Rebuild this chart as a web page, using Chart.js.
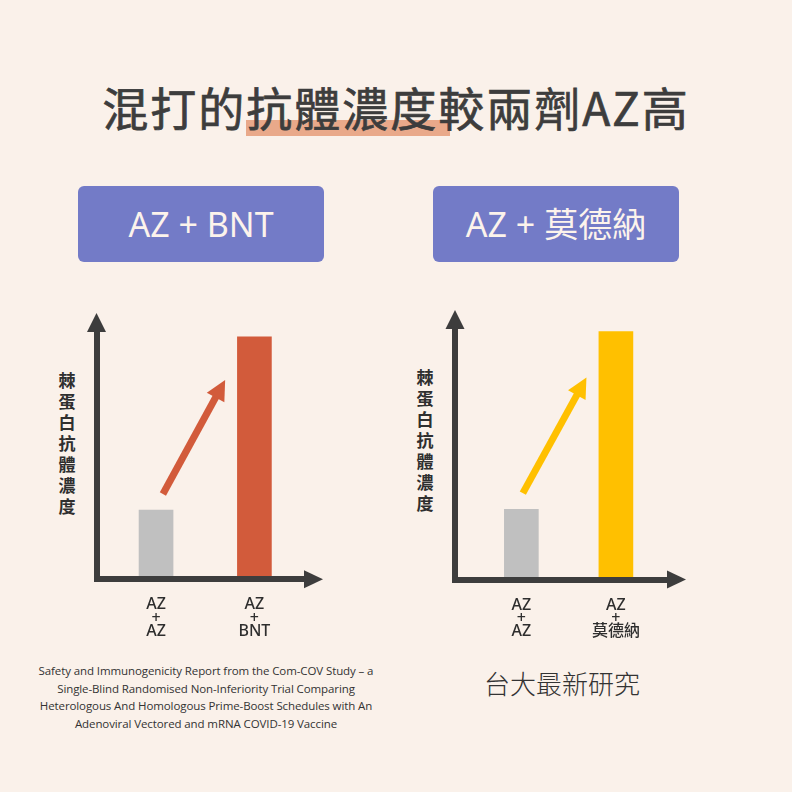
<!DOCTYPE html>
<html>
<head>
<meta charset="utf-8">
<script src="https://cdn.jsdelivr.net/npm/chart.js@4/dist/chart.umd.min.js"></script>
<style>
  html, body { margin: 0; padding: 0; }
  body { width: 792px; height: 792px; background: #faf1ea; position: relative; overflow: hidden;
         font-family: 'Noto Sans', 'Noto Sans CJK TC', sans-serif; color: #3b3b3b; }
  .abs { position: absolute; }
  #hl { left: 246px; top: 120px; width: 204px; height: 16px; background: #e9a98a; }
  #title { left: 0; width: 792px; top: 82px; height: 48px; line-height: 48px; text-align: center;
           font-family: 'Noto Sans CJK TC', sans-serif; font-weight: 400; font-size: 46px;
           letter-spacing: 2px; color: #3d3d3d; -webkit-text-stroke: 0.7px #3d3d3d; }
  .box { top: 186px; width: 246px; height: 76px; border-radius: 6px; background: #737bc7;
         color: #fcf3ec; font-size: 34px; line-height: 76px; text-align: center; }
  .ylab { width: 24px; text-align: center; font-family: 'Noto Sans CJK TC', sans-serif;
          font-weight: 700; font-size: 17px; line-height: 21px; color: #2f2f2f; }
  #cite { left: 20px; width: 372px; top: 662px; text-align: center; font-family: 'Open Sans', sans-serif;
          font-size: 11.5px; line-height: 17.7px; letter-spacing: -0.1px; color: #333; }
  #src { left: 462px; width: 200px; top: 666px; text-align: center; font-family: 'Noto Sans CJK TC', sans-serif;
         font-weight: 300; font-size: 26px; line-height: 34px; color: #333; }
  canvas { position: absolute; }
</style>
</head>
<body>
<div id="hl" class="abs"></div>
<div id="title" class="abs">混打的抗體濃度較兩劑AZ高</div>
<div class="abs box" style="left:78px">AZ + BNT</div>
<div class="abs box" style="left:433px">AZ + 莫德納</div>
<div class="abs ylab" style="left:55px; top:369px">棘<br>蛋<br>白<br>抗<br>體<br>濃<br>度</div>
<div class="abs ylab" style="left:413px; top:366px">棘<br>蛋<br>白<br>抗<br>體<br>濃<br>度</div>
<canvas id="left" width="300" height="370" style="left:40px; top:290px"></canvas>
<canvas id="right" width="300" height="370" style="left:400px; top:290px"></canvas>
<div id="cite" class="abs">Safety and Immunogenicity Report from the Com-COV Study – a<br>Single-Blind Randomised Non-Inferiority Trial Comparing<br>Heterologous And Homologous Prime-Boost Schedules with An<br>Adenoviral Vectored and mRNA COVID-19 Vaccine</div>
<div id="src" class="abs">台大最新研究</div>
<script>
// data (arbitrary units, top of axis = 100)
const categoriesBNT = [['AZ', '+', 'AZ'], ['AZ', '+', 'BNT']];
const categoriesModerna = [['AZ', '+', 'AZ'], ['AZ', '+', '莫德納']];
const valuesBNT = [28, 98];
const valuesModerna = [28, 99];
// trend arrow, in data units [x, y]
const trendFrom = [0.32, 34.5];
const trendTo = [0.62, 80.6];

const AXIS = '#3d3d3d';
const AXIS_W = 6;

// arrowheads on the axes + the diagonal trend arrow
const arrowPlugin = {
  id: 'arrows',
  afterDraw(chart, args, opts) {
    const { ctx, chartArea: a, scales: { x, y } } = chart;
    ctx.save();
    ctx.fillStyle = AXIS;
    ctx.beginPath();
    ctx.moveTo(a.left - 9.5, a.top);
    ctx.lineTo(a.left + 9.5, a.top);
    ctx.lineTo(a.left, a.top - 19);
    ctx.closePath();
    ctx.fill();
    ctx.beginPath();
    ctx.moveTo(a.right, a.bottom - 9);
    ctx.lineTo(a.right, a.bottom + 9);
    ctx.lineTo(a.right + 19, a.bottom);
    ctx.closePath();
    ctx.fill();

    const x0 = x.getPixelForValue(trendFrom[0]), y0 = y.getPixelForValue(trendFrom[1]);
    const x1 = x.getPixelForValue(trendTo[0]), y1 = y.getPixelForValue(trendTo[1]);
    const len = Math.hypot(x1 - x0, y1 - y0);
    const ux = (x1 - x0) / len, uy = (y1 - y0) / len;
    const head = 20, half = 10;
    const bx = x1 - ux * head, by = y1 - uy * head;
    ctx.strokeStyle = opts.color;
    ctx.fillStyle = opts.color;
    ctx.lineWidth = 7;
    ctx.beginPath();
    ctx.moveTo(x0, y0);
    ctx.lineTo(bx + ux * 2, by + uy * 2);
    ctx.stroke();
    ctx.beginPath();
    ctx.moveTo(x1, y1);
    ctx.lineTo(bx - uy * half, by + ux * half);
    ctx.lineTo(bx + uy * half, by - ux * half);
    ctx.closePath();
    ctx.fill();
    ctx.restore();
  },
};

function makeChart(id, categories, values, slots, color, pad) {
  return new Chart(document.getElementById(id), {
    type: 'bar',
    data: {
      datasets: [{
        data: slots.map((s, i) => ({ x: s, y: values[i] })),
        backgroundColor: ['#c0c0c0', color],
        barThickness: 34,
      }],
    },
    options: {
      responsive: false,
      animation: false,
      layout: { padding: pad },
      plugins: {
        legend: { display: false },
        tooltip: { enabled: false },
        arrows: { color },
      },
      scales: {
        x: {
          type: 'linear',
          min: 0,
          max: 1,
          offset: false,
          grid: { display: false, drawTicks: false, offset: false },
          border: { display: true, color: AXIS, width: AXIS_W, z: 1 },
          afterBuildTicks: (s) => { s.ticks = slots.map((v) => ({ value: v })); },
          afterFit: (s) => { s.height = 70; },
          ticks: {
            autoSkip: false,
            maxRotation: 0,
            padding: 19,
            color: '#2e2e2e',
            font: { family: "'Noto Sans', 'Noto Sans CJK TC', sans-serif", size: 16, weight: 500, lineHeight: 0.82 },
            callback: (v, i) => categories[i],
          },
        },
        y: {
          min: 0,
          max: 100,
          grid: { display: false, drawTicks: false },
          border: { display: true, color: AXIS, width: AXIS_W, z: 1 },
          ticks: { display: false },
          afterFit: (s) => { s.width = 0; },
        },
      },
    },
    plugins: [arrowPlugin],
  });
}

makeChart('left', categoriesBNT, valuesBNT, [0.287, 0.761], '#d25b3b',
  { left: 56.5, right: 36, top: 42, bottom: 10.7 });
makeChart('right', categoriesModerna, valuesModerna, [0.313, 0.759], '#ffc000',
  { left: 55, right: 33, top: 39, bottom: 10.5 });
</script>
</body>
</html>
